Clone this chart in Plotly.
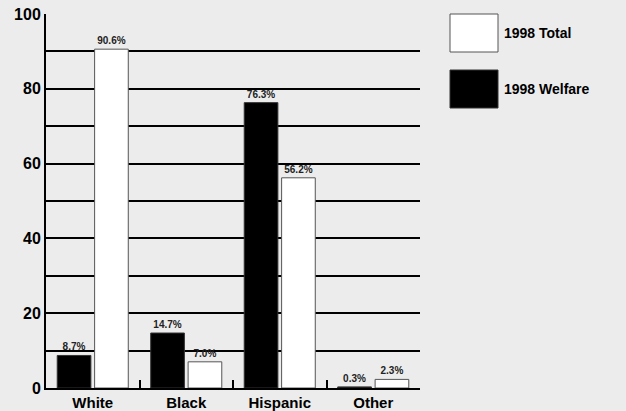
import plotly.graph_objects as go

categories = ["White", "Black", "Hispanic", "Other"]
welfare_1998 = [8.7, 14.7, 76.3, 0.3]
total_1998 = [90.6, 7.0, 56.2, 2.3]
series_names = ["1998 Total", "1998 Welfare"]
y_ticks = [0, 20, 40, 60, 80, 100]

bg = "#ececec"
font_family = "Liberation Sans, Arial, sans-serif"

fig = go.Figure()
fig.add_trace(go.Bar(
    x=categories, y=welfare_1998, name=series_names[1],
    marker=dict(color="black", line=dict(color="#333333", width=1)),
    text=[f"{v:.1f}%" for v in welfare_1998], textposition="outside",
    textfont=dict(size=10, color="#222222", family=font_family, weight="bold"),
    cliponaxis=False,
))
fig.add_trace(go.Bar(
    x=categories, y=total_1998, name=series_names[0],
    marker=dict(color="white", line=dict(color="#555555", width=1)),
    text=[f"{v:.1f}%" for v in total_1998], textposition="outside",
    textfont=dict(size=10, color="#222222", family=font_family, weight="bold"),
    cliponaxis=False,
))

fig.update_layout(
    width=626, height=411,
    margin=dict(l=46, r=206, t=14, b=23, autoexpand=False),
    paper_bgcolor=bg, plot_bgcolor=bg,
    barmode="group", bargap=0.2, bargroupgap=0.1,
    showlegend=False,
    font=dict(family=font_family, color="black"),
    uniformtext=dict(mode="show", minsize=9),
)
fig.update_xaxes(
    showgrid=False, showline=True, linecolor="black", linewidth=2,
    ticks="inside", tickson="boundaries", ticklen=8, tickwidth=1.5, tickcolor="black",
    tickfont=dict(size=15, family=font_family, color="black", weight="bold"),
    zeroline=False, automargin=False,
)
fig.update_yaxes(
    range=[0, 100], tickvals=y_ticks, showline=True, linecolor="black", linewidth=2,
    showgrid=True, gridcolor="black", gridwidth=1.5,
    minor=dict(dtick=10, showgrid=True, gridcolor="black", gridwidth=1.5),
    ticks="", zeroline=False, automargin=False,
    tickfont=dict(size=16, family=font_family, color="black", weight="bold"),
)

# Custom large legend swatches
legend_items = [(series_names[0], "white", "#555555"), (series_names[1], "black", "#333333")]
for i, (name, fill, edge) in enumerate(legend_items):
    y0 = 14 + i * 56
    fig.add_shape(type="rect", xref="paper", yref="paper",
                  x0=(450 - 46) / 374, x1=(498 - 46) / 374,
                  y0=(388 - (y0 + 38)) / 374, y1=(388 - y0) / 374,
                  fillcolor=fill, line=dict(color=edge, width=1))
    fig.add_annotation(xref="paper", yref="paper", x=(502 - 46) / 374,
                       y=(388 - (y0 + 19)) / 374, text=name, showarrow=False,
                       xanchor="left", yanchor="middle",
                       font=dict(size=14, family=font_family, color="black", weight="bold"))

fig.write_html("out.html", config={"displayModeBar": False},
               post_script="document.body.style.margin='0';document.body.style.background='#ececec';")
